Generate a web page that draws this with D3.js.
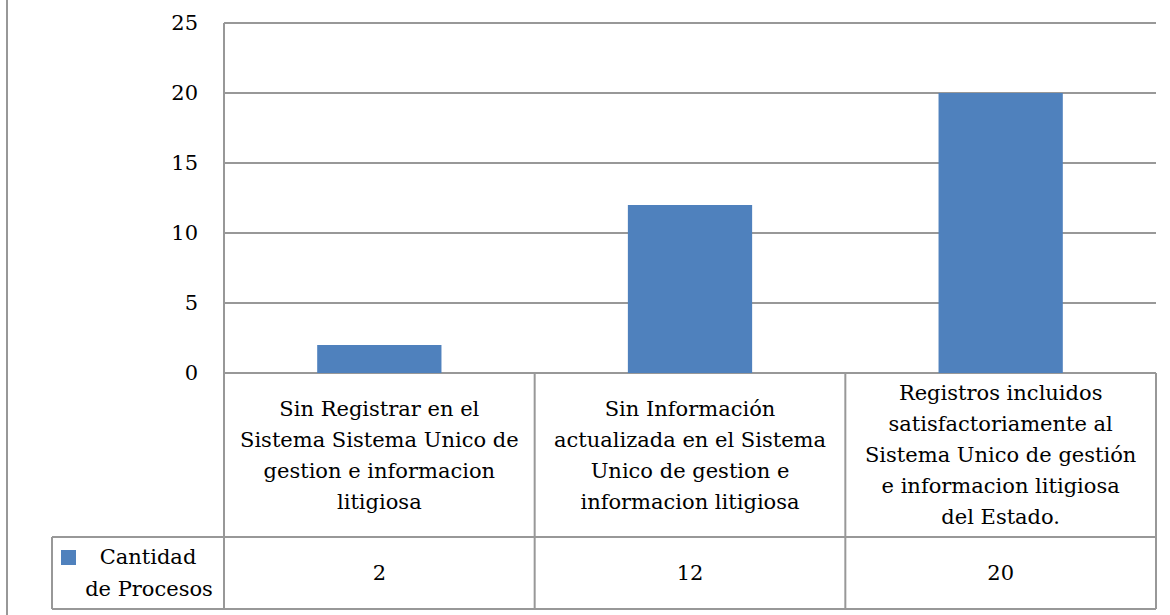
<!doctype html><html><head><meta charset="utf-8"></head><body style="margin:0;background:#fff"><script src='https://d3js.org/d3.v7.min.js'></script>

<style>
	svg text {
		fill: black;
		font-family: "DejaVu Serif", serif;
		font-size: 21px;
	}
</style>

<script>
  // data
  var categories = ["sin", "sinInfo", "registros"];
  var categoryLines = [
    ["Sin Registrar en el", "Sistema Sistema Unico de", "gestion e informacion", "litigiosa"],
    ["Sin Información", "actualizada en el Sistema", "Unico de gestion e", "informacion litigiosa"],
    ["Registros incluidos", "satisfactoriamente al", "Sistema Unico de gestión", "e informacion litigiosa", "del Estado."]
  ];
  var values = [2, 12, 20];
  var seriesName = ["Cantidad", "de Procesos"];
  var yTicks = [0, 5, 10, 15, 20, 25];

  var width = 1170, height = 615;
  var plotLeft = 224, plotRight = 1156, plotTop = 23, plotBottom = 373;
  var labelBottom = 537, tableBottom = 609, legendLeft = 52;
  var gray = "#989898", blue = "#4F81BD";
  var lineH = 31;

  var svg = d3.select("body").append("svg")
    .attr("width", width)
    .attr("height", height);

  var x = d3.scaleBand().domain(categories).range([plotLeft, plotRight]);
  var y = d3.scaleLinear().domain([0, 25]).range([plotBottom, plotTop]);

  // outer chart border (left edge only visible)
  svg.append("line")
    .attr("x1", 7).attr("x2", 7).attr("y1", 0).attr("y2", height)
    .attr("stroke", gray).attr("stroke-width", 2);

  // gridlines
  svg.selectAll(".grid")
    .data(yTicks)
    .enter().append("line")
    .attr("x1", plotLeft).attr("x2", plotRight)
    .attr("y1", function(d) { return y(d); })
    .attr("y2", function(d) { return y(d); })
    .attr("stroke", gray).attr("stroke-width", 2);

  // y labels
  svg.selectAll(".ylab")
    .data(yTicks)
    .enter().append("text")
    .attr("x", 198)
    .attr("y", function(d) { return y(d); })
    .attr("dy", "0.35em")
    .attr("text-anchor", "end")
    .text(function(d) { return d; });

  // bars
  var bw = x.bandwidth() * 0.4;
  svg.selectAll(".bar")
    .data(values)
    .enter().append("rect")
    .attr("x", function(d, i) { return x(categories[i]) + (x.bandwidth() - bw) / 2; })
    .attr("y", function(d) { return y(d); })
    .attr("width", bw)
    .attr("height", function(d) { return y(0) - y(d); })
    .attr("fill", blue);

  // table lines
  var g = svg.append("g").attr("stroke", gray).attr("stroke-width", 2);
  g.append("line").attr("x1", plotLeft).attr("x2", plotLeft).attr("y1", plotTop).attr("y2", tableBottom);
  g.append("line").attr("x1", plotRight).attr("x2", plotRight).attr("y1", plotBottom).attr("y2", tableBottom);
  categories.slice(1).forEach(function(c) {
    g.append("line").attr("x1", x(c)).attr("x2", x(c)).attr("y1", plotBottom).attr("y2", tableBottom);
  });
  g.append("line").attr("x1", legendLeft).attr("x2", plotRight).attr("y1", labelBottom).attr("y2", labelBottom);
  g.append("line").attr("x1", legendLeft).attr("x2", plotRight).attr("y1", tableBottom).attr("y2", tableBottom);
  g.append("line").attr("x1", legendLeft).attr("x2", legendLeft).attr("y1", labelBottom).attr("y2", tableBottom);

  // category labels
  categoryLines.forEach(function(lines, i) {
    var cx = x(categories[i]) + x.bandwidth() / 2;
    var cy = (plotBottom + labelBottom) / 2;
    var y0 = cy - (lines.length - 1) * lineH / 2;
    svg.append("g").selectAll("text")
      .data(lines)
      .enter().append("text")
      .attr("x", cx)
      .attr("y", function(d, j) { return y0 + j * lineH; })
      .attr("dy", "0.35em")
      .attr("text-anchor", "middle")
      .text(function(d) { return d; });
  });

  // values row
  svg.selectAll(".val")
    .data(values)
    .enter().append("text")
    .attr("x", function(d, i) { return x(categories[i]) + x.bandwidth() / 2; })
    .attr("y", (labelBottom + tableBottom) / 2)
    .attr("dy", "0.35em")
    .attr("text-anchor", "middle")
    .text(function(d) { return d; });

  // legend cell
  svg.append("rect")
    .attr("x", 61).attr("y", 550).attr("width", 15).attr("height", 15)
    .attr("fill", blue);
  svg.append("text").attr("x", 148).attr("y", 557).attr("dy", "0.35em")
    .attr("text-anchor", "middle").text(seriesName[0]);
  svg.append("text").attr("x", 149).attr("y", 589).attr("dy", "0.35em")
    .attr("text-anchor", "middle").text(seriesName[1]);
</script></body></html>
